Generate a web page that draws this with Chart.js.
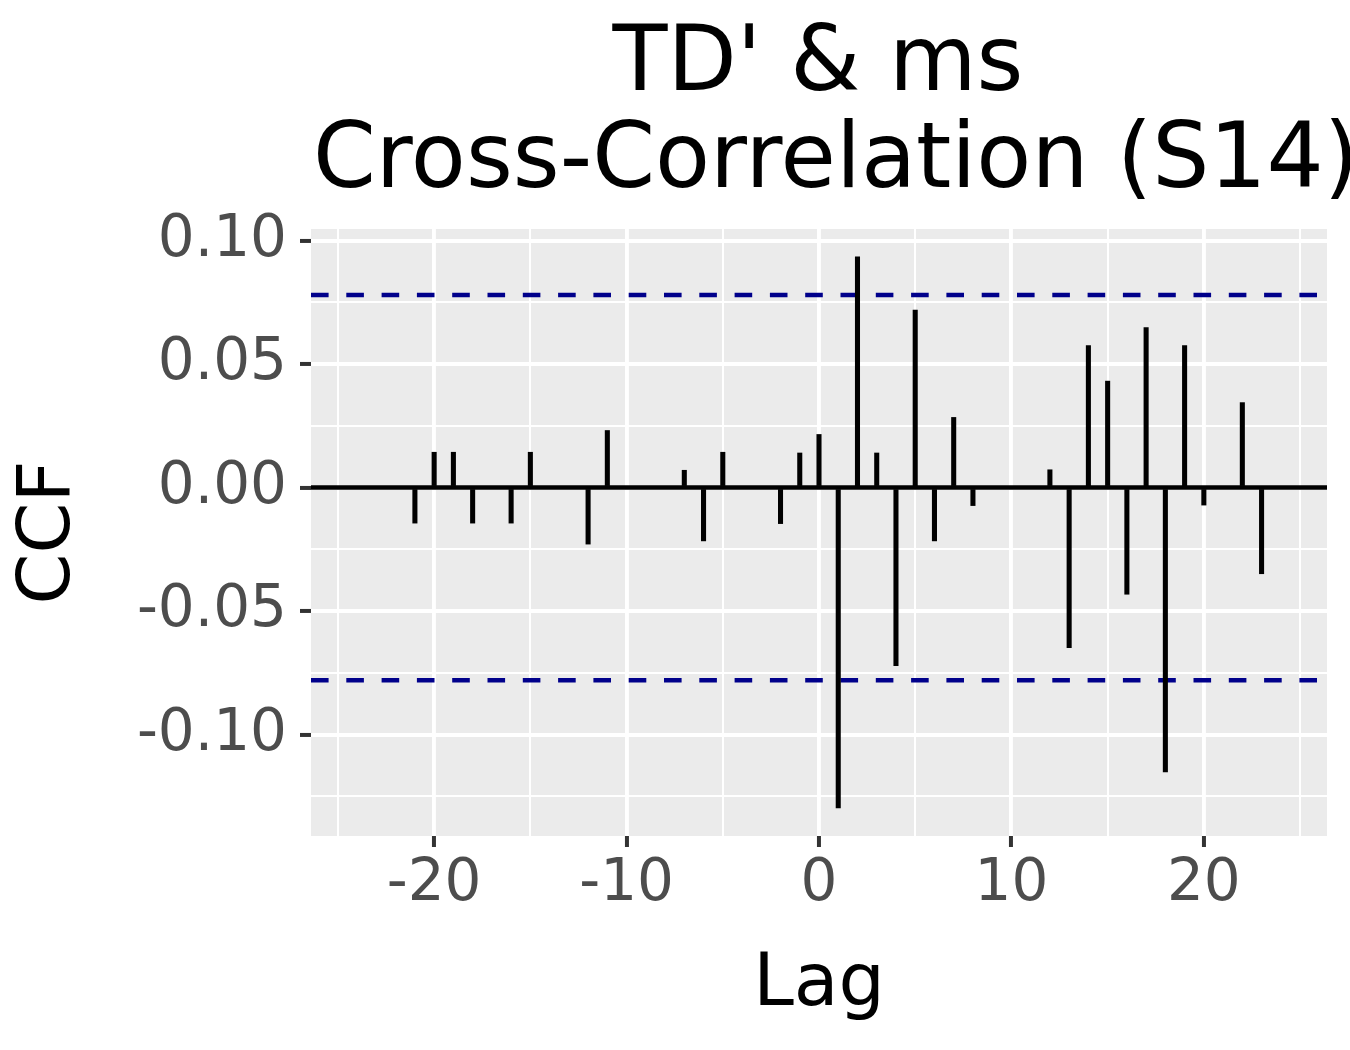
<!DOCTYPE html>
<html>
<head>
<meta charset="utf-8">
<script src="https://cdn.jsdelivr.net/npm/chart.js@4.4.1/dist/chart.umd.min.js"></script>
<style>
  html, body { margin: 0; padding: 0; background: #ffffff; }
  canvas { display: block; }
</style>
</head>
<body>
<canvas id="ccf-chart" width="1350" height="1050"></canvas>
<script>
// lags and cross-correlation values
const lags = [-24, -23, -22, -21, -20, -19, -18, -17, -16, -15, -14, -13, -12, -11, -10, -9, -8, -7, -6, -5, -4, -3, -2, -1,
  0, 1, 2, 3, 4, 5, 6, 7, 8, 9, 10, 11, 12, 13, 14, 15, 16, 17, 18, 19, 20, 21, 22, 23, 24];
const ccfValues = [0, 0, 0, -0.0144, 0.0143, 0.0143, -0.0144, 0, -0.0144, 0.0143, 0, 0, -0.0229, 0.0231, 0, 0, 0, 0.0070, -0.0216, 0.0143, 0, 0, -0.0146, 0.0140,
  0.0215, -0.1297, 0.0934, 0.0140, -0.0721, 0.0719, -0.0216, 0.0284, -0.0073, 0, 0, 0, 0.0072, -0.0648, 0.0575, 0.0431, -0.0432, 0.0648, -0.1152, 0.0575, -0.0071, 0, 0.0344, -0.0349, 0];
const confLimit = 0.078;

const xLimits = [-26.4, 26.4];
const yLimits = [-0.1411, 0.1047];

const titleLines = ["TD' & ms", 'Cross-Correlation (S14)'];
const xTitle = 'Lag';
const yTitle = 'CCF';

const FONT = '"DejaVu Sans", "Liberation Sans", sans-serif';

const isMultiple = (v, step) => Math.abs(v / step - Math.round(v / step)) < 1e-6;

const panelBackground = {
  id: 'panelBackground',
  beforeDraw(chart) {
    const { ctx, chartArea } = chart;
    ctx.save();
    ctx.fillStyle = '#ffffff';
    ctx.fillRect(0, 0, chart.width, chart.height);
    ctx.fillStyle = '#EBEBEB';
    ctx.fillRect(chartArea.left, chartArea.top, chartArea.right - chartArea.left, chartArea.bottom - chartArea.top);
    ctx.restore();
  }
};

const plotTitle = {
  id: 'plotTitle',
  afterDraw(chart) {
    const { ctx, chartArea } = chart;
    const mid = (chartArea.left + chartArea.right) / 2;
    ctx.save();
    ctx.fillStyle = '#000000';
    ctx.font = '90px ' + FONT;
    ctx.textBaseline = 'alphabetic';
    ctx.textAlign = 'center';
    ctx.fillText(titleLines[0], mid - 1, 90);
    ctx.textAlign = 'left';
    ctx.fillText(titleLines[1], chartArea.left + 2, 187);
    ctx.restore();
  }
};

const hline = (y) => [{ x: xLimits[0], y: y }, { x: xLimits[1], y: y }];

const ctx = document.getElementById('ccf-chart');

new Chart(ctx, {
  type: 'bar',
  data: {
    datasets: [
      {
        type: 'bar',
        data: lags.map((lag, i) => ({ x: lag, y: ccfValues[i] })),
        backgroundColor: '#000000',
        borderWidth: 0,
        barThickness: 4.4,
        order: 0
      },
      {
        type: 'line',
        data: hline(0),
        borderColor: '#000000',
        borderWidth: 4.6,
        pointRadius: 0,
        order: 1
      },
      {
        type: 'line',
        data: hline(confLimit),
        borderColor: '#00008B',
        borderWidth: 4.5,
        borderDash: [17.6, 17.7],
        borderCapStyle: 'butt',
        pointRadius: 0,
        order: 2
      },
      {
        type: 'line',
        data: hline(-confLimit),
        borderColor: '#00008B',
        borderWidth: 4.5,
        borderDash: [17.6, 17.7],
        borderCapStyle: 'butt',
        pointRadius: 0,
        order: 2
      }
    ]
  },
  options: {
    responsive: false,
    animation: false,
    devicePixelRatio: 1,
    layout: {
      padding: { top: 229, right: 23, bottom: 0, left: 0 }
    },
    scales: {
      x: {
        type: 'linear',
        min: xLimits[0],
        max: xLimits[1],
        offset: false,
        afterFit: (scale) => { scale.height = 214; },
        grid: {
          offset: false,
          color: '#ffffff',
          lineWidth: (c) => isMultiple(c.tick.value, 10) ? 3.9 : 2,
          tickLength: 11,
          tickWidth: 4,
          tickColor: (c) => isMultiple(c.tick.value, 10) ? '#333333' : 'rgba(0,0,0,0)'
        },
        border: { display: false },
        ticks: {
          stepSize: 5,
          includeBounds: false,
          autoSkip: false,
          maxRotation: 0,
          minRotation: 0,
          padding: 3,
          color: '#4D4D4D',
          font: { family: FONT, size: 58 },
          callback: (v) => isMultiple(v, 10) ? String(Math.round(v)) : ''
        },
        title: {
          display: true,
          text: xTitle,
          color: '#000000',
          font: { family: FONT, size: 73 },
          padding: { top: 0, bottom: 20 }
        }
      },
      y: {
        type: 'linear',
        min: yLimits[0],
        max: yLimits[1],
        afterFit: (scale) => { scale.width = 311; },
        grid: {
          color: '#ffffff',
          lineWidth: (c) => isMultiple(c.tick.value, 0.05) ? 3.9 : 2,
          tickLength: 11,
          tickWidth: 4,
          tickColor: (c) => isMultiple(c.tick.value, 0.05) ? '#333333' : 'rgba(0,0,0,0)'
        },
        border: { display: false },
        ticks: {
          stepSize: 0.025,
          includeBounds: false,
          autoSkip: false,
          padding: 13,
          color: '#4D4D4D',
          font: { family: FONT, size: 58 },
          callback: (v) => isMultiple(v, 0.05) ? v.toFixed(2) : ''
        },
        title: {
          display: true,
          text: yTitle,
          color: '#000000',
          font: { family: FONT, size: 73 },
          padding: { top: 6, bottom: 0 }
        }
      }
    },
    plugins: {
      legend: { display: false },
      tooltip: { enabled: false },
      title: { display: false }
    }
  },
  plugins: [panelBackground, plotTitle]
});
</script>
</body>
</html>
